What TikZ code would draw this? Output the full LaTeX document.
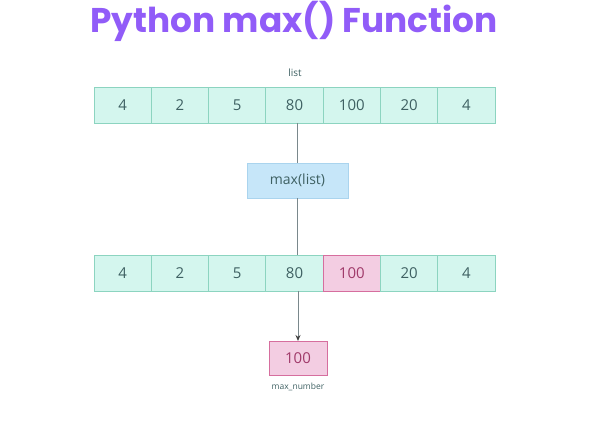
\documentclass[tikz,border=0pt]{standalone}
\usepackage{fontspec}
\setmainfont{Open Sans}
\newfontfamily\titlefont{Poppins}
\usepackage{xcolor}
\definecolor{ttlpurple}{RGB}{145,92,248}
\definecolor{cellfill}{RGB}{212,246,238}
\definecolor{celledge}{RGB}{140,212,192}
\definecolor{celltext}{RGB}{62,96,98}
\definecolor{fnfill}{RGB}{198,230,249}
\definecolor{fnedge}{RGB}{170,212,238}
\definecolor{hifill}{RGB}{243,205,226}
\definecolor{hiedge}{RGB}{214,110,158}
\definecolor{hitext}{RGB}{160,58,106}
\definecolor{linkgray}{RGB}{122,136,140}
\usetikzlibrary{arrows.meta, positioning}

\tikzset{
  cell/.style={draw=celledge, fill=cellfill, line width=0.8pt, text=celltext,
    minimum width=57.3pt, minimum height=36pt, inner sep=0pt, outer sep=0pt, font=\fontsize{15}{15}\selectfont},
  hicell/.style={cell, draw=hiedge, fill=hifill, text=hitext},
  fnbox/.style={draw=fnedge, fill=fnfill, line width=0.6pt, text=celltext,
    minimum width=101pt, minimum height=35pt, inner sep=0pt, font=\fontsize{14}{14}\selectfont},
  caption/.style={text=celltext, font=\fontsize{10}{10}\selectfont},
  link/.style={draw=linkgray, line width=1pt}
}

\begin{document}
\begin{tikzpicture}[x=1pt, y=-1pt]
  \useasboundingbox (0,0) rectangle (590,430);

  % Title
  \node[font=\titlefont\bfseries\fontsize{34.3}{34.3}\selectfont, text=ttlpurple] (title) at (294,21) {Python max() Function};

  % --- Input list ---
  \node[caption] (listlbl) at (295,73) {list};
  \node[cell] (a1) at (122.6,105) {4};
  \node[cell] (a2) at (179.9,105) {2};
  \node[cell] (a3) at (237.2,105) {5};
  \node[cell] (a4) at (294.5,105) {80};
  \node[cell] (a5) at (351.8,105) {100};
  \node[cell] (a6) at (409.1,105) {20};
  \node[cell] (a7) at (466.4,105) {4};

  % Function call
  \node[fnbox] (maxfn) at (297.5,180.5) {max(list)};

  % --- Scanned list ---
  \node[cell] (b1) at (122.6,273) {4};
  \node[cell] (b2) at (179.9,273) {2};
  \node[cell] (b3) at (237.2,273) {5};
  \node[cell] (b4) at (294.5,273) {80};
  \node[hicell] (b5) at (351.8,273) {100};
  \node[cell] (b6) at (409.1,273) {20};
  \node[cell] (b7) at (466.4,273) {4};

  % Result
  \node[hicell, minimum width=58pt, minimum height=34pt] (maxnum) at (298,358) {100};
  \node[caption, font=\fontsize{8.5}{8.5}\selectfont] (maxlbl) at (298,387) {max\_number};

  % Connectors
  \draw[link] (maxfn.north |- a4.south) -- (maxfn.north);
  \draw[link] (maxfn.south) -- (maxfn.south |- b4.north);
  \draw[link, -{Stealth[length=6pt, width=5pt, color=black!75]}] (maxnum.north |- b4.south) -- (maxnum.north);
\end{tikzpicture}
\end{document}
